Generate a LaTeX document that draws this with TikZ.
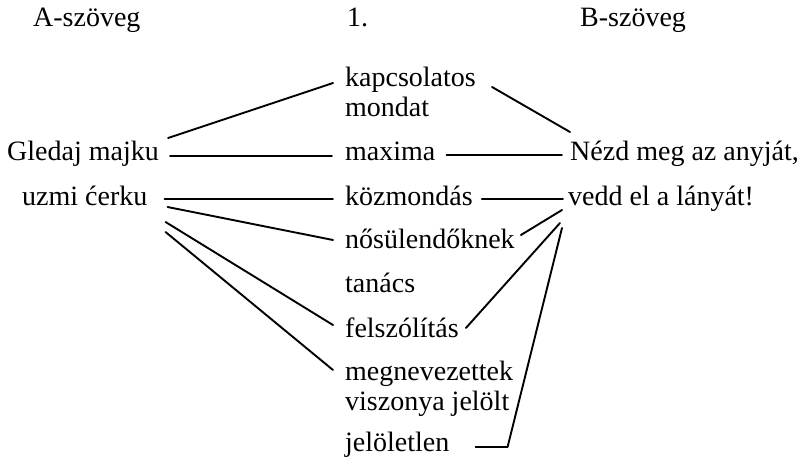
\documentclass[tikz,border=0pt]{standalone}
\usepackage{fontspec}
\setmainfont{Liberation Serif}
\usetikzlibrary{calc}
\tikzset{
  lbl/.style={anchor=base west, inner sep=0pt, font=\fontsize{28}{30}\selectfont},
  conn/.style={line width=1.9pt, line cap=round, line join=round}
}
\begin{document}
\begin{tikzpicture}[x=1pt,y=-1pt]
\useasboundingbox (0,0) rectangle (798,460);
% headings
\node[lbl] (hA) at (33,27) {A-szöveg};
\node[lbl] (h1) at (347,27) {1.};
\node[lbl] (hB) at (580,27) {B-szöveg};
% left column
\node[lbl] (gled) at (7,160) {Gledaj majku};
\node[lbl] (uzmi) at (22,205) {uzmi ćerku};
% middle column
\node[lbl] (kap) at (345,87) {kapcsolatos};
\node[lbl] (mond) at (345,117) {mondat};
\node[lbl] (maxi) at (345,160) {maxima};
\node[lbl] (kozm) at (345,205) {közmondás};
\node[lbl] (nos) at (345,248) {nősülendőknek};
\node[lbl] (tan) at (345,292) {tanács};
\node[lbl] (fel) at (345,337) {felszólítás};
\node[lbl] (megn) at (345,380) {megnevezettek};
\node[lbl] (visz) at (345,410) {viszonya jelölt};
\node[lbl] (jel) at (345,451) {jelöletlen};
% right column
\node[lbl] (nezd) at (570,160) {Nézd meg az anyját,};
\node[lbl] (vedd) at (568,205) {vedd el a lányát!};
% connectors: left to middle
\draw[conn] ($(gled.base east)+(9,-22)$) -- ($(kap.base west)+(-12,-4)$);
\draw[conn] ($(gled.base east)+(11,-4)$) -- ($(maxi.base west)+(-13,-4)$);
\draw[conn] ($(uzmi.base east)+(17,-6)$) -- ($(kozm.base west)+(-12,-6)$);
\draw[conn] ($(uzmi.base east)+(20,2)$) -- ($(nos.base west)+(-12,-8)$);
\draw[conn] ($(uzmi.base east)+(18,17)$) -- ($(fel.base west)+(-12,-12)$);
\draw[conn] ($(uzmi.base east)+(18,27)$) -- ($(megn.base west)+(-12,-10)$);
% connectors: middle to right
\draw[conn] ($(kap.base east)+(16,0)$) -- ($(nezd.base west)+(0,-28)$);
\draw[conn] ($(maxi.base east)+(11,-5)$) -- ($(nezd.base west)+(-8,-5)$);
\draw[conn] ($(kozm.base east)+(9,-6)$) -- ($(vedd.base west)+(-5,-6)$);
\draw[conn] ($(vedd.base west)+(-6,5)$) -- ($(nos.base east)+(6,-13)$);
\draw[conn] ($(vedd.base west)+(-8,18)$) -- ($(fel.base east)+(7,-9)$);
\coordinate (jc) at ($(jel.base east)+(58,-4)$);
\draw[conn] ($(vedd.base west)+(-6,23)$) -- (jc) -- ($(jel.base east)+(26,-4)$);
\end{tikzpicture}
\end{document}
